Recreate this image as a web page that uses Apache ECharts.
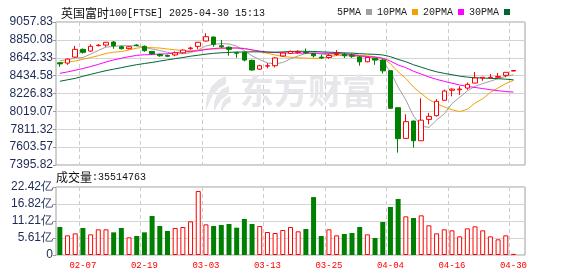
<!DOCTYPE html>
<html><head><meta charset="utf-8">
<script src="https://cdn.jsdelivr.net/npm/echarts@6/dist/echarts.min.js"></script>
<style>html,body{margin:0;padding:0;background:#fff}#c{width:578px;height:276px}</style>
</head><body><div id="c"></div>
<script>
const dates = ['02-04','02-05','02-06','02-07','02-10','02-11','02-12','02-13','02-14','02-17','02-18','02-19','02-20','02-21','02-24','02-25','02-26','02-27','02-28',
'03-03','03-04','03-05','03-06','03-07','03-10','03-11','03-12','03-13','03-14','03-17','03-18','03-19','03-20','03-21','03-24','03-25','03-26','03-27','03-28','03-31',
'04-01','04-02','04-03','04-04','04-07','04-08','04-09','04-10','04-11','04-14','04-15','04-16','04-17','04-22','04-23','04-24','04-25','04-28','04-29','04-30'];
const openV  = [8583,8580,8650,8740,8720,8783,8790,8825,8770,8748,8790,8775,8716,8680,8668,8675,8700,8748,8775,8837,8883,8782,8764,8702,8705,8612,8510,8545,8550,8663,8693,8705,8706,8690,8650,8645,8680,8680,8670,8650,8595,8635,8615,8492,8062,7705,7907,7678,7926,7969,8148,8264,8270,8290,8348,8405,8410,8415,8438,8488];
const closeV = [8571,8627,8740,8705,8775,8788,8822,8782,8748,8770,8785,8725,8690,8665,8660,8700,8731,8756,8822,8887,8798,8770,8740,8695,8615,8500,8550,8550,8640,8697,8716,8710,8701,8665,8640,8668,8690,8666,8660,8595,8645,8615,8490,8055,7702,7900,7678,7917,7961,8136,8256,8278,8279,8333,8407,8415,8414,8425,8473,8494];
const lowV   = [8538,8560,8645,8690,8712,8775,8770,8747,8737,8740,8775,8712,8680,8655,8650,8660,8690,8735,8745,8830,8770,8755,8666,8642,8600,8490,8500,8520,8530,8655,8685,8690,8685,8645,8630,8630,8665,8640,8640,8550,8590,8560,8460,8050,7540,7700,7597,7675,7869,7960,8145,8194,8210,8270,8345,8375,8400,8410,8415,8485];
const highV  = [8592,8635,8780,8750,8800,8800,8826,8837,8782,8775,8800,8785,8720,8690,8680,8715,8740,8770,8825,8926,8887,8848,8775,8710,8715,8620,8560,8580,8650,8705,8725,8730,8750,8700,8680,8685,8730,8700,8690,8660,8650,8640,8630,8495,8062,7985,7910,8171,8000,8160,8272,8287,8310,8355,8476,8415,8453,8465,8475,8497];
const ma5  = [8606,8620,8639,8645,8684,8727,8766,8774,8783,8782,8781,8762,8744,8727,8705,8688,8689,8702,8734,8779,8799,8807,8803,8778,8724,8664,8620,8582,8571,8587,8631,8663,8693,8698,8686,8677,8673,8666,8665,8656,8651,8636,8601,8480,8301,8152,7965,7850,7832,7918,7990,8110,8182,8256,8311,8342,8370,8399,8427,8444];
const ma10 = [8585,8592,8605,8625,8645,8666,8693,8707,8714,8733,8754,8764,8759,8755,8744,8735,8726,8723,8731,8742,8744,8748,8753,8756,8752,8732,8714,8693,8675,8656,8648,8642,8638,8635,8637,8654,8668,8680,8682,8671,8664,8655,8634,8573,8479,8402,8301,8226,8156,8110,8071,8038,8016,8044,8115,8166,8240,8291,8342,8378];
const ma20 = [8461,8478,8497,8517,8540,8565,8593,8617,8637,8655,8670,8677,8680,8686,8688,8701,8710,8715,8723,8738,8749,8756,8756,8756,8748,8734,8720,8708,8703,8699,8696,8695,8696,8696,8695,8693,8691,8687,8679,8664,8656,8649,8636,8604,8558,8528,8485,8453,8419,8391,8368,8347,8325,8309,8297,8284,8271,8259,8249,8244];
const ma30 = [8369,8386,8403,8427,8450,8471,8492,8510,8527,8545,8562,8575,8588,8603,8618,8632,8645,8660,8672,8684,8694,8700,8704,8709,8709,8711,8711,8708,8707,8710,8715,8718,8717,8715,8711,8707,8703,8699,8696,8690,8685,8682,8675,8655,8623,8596,8561,8533,8504,8479,8461,8445,8429,8417,8410,8407,8403,8399,8393,8386];
const volume = [9.23,6.48,7.14,8.9,6.81,8.46,8.46,7.47,8.9,5.84,6.26,7.47,12.86,9.56,7.91,8.9,9.23,11.1,21.1,10.1,9.56,9.89,10.22,9.0,11.87,10.22,9.56,7.58,7.25,8.24,9.23,7.8,8.57,19.1,6.26,8.46,6.48,6.92,7.25,9.23,6.81,5.6,10.88,15.83,18.46,12.75,12.2,13.08,9.78,7.14,8.46,8.13,6.15,8.79,9.45,8.13,6.15,5.17,6.48,0.36];
const priceTicks = ['7395.82','7603.57','7811.32','8019.07','8226.83','8434.58','8642.33','8850.08','9057.83'];
const volTicks = ['0','5.61亿','11.21亿','16.82亿','22.42亿'];
const PRICE_MIN = 7395.82, PRICE_MAX = 9057.83, PRICE_STEP = 207.75125;
const VOL_MAX = 22.42, VOL_STEP = 5.605;

const UP = '#ff0000', DOWN = '#008000';
const cats = dates.concat(['']);
const candle = openV.map((o, i) => [o, closeV[i], lowV[i], highV[i]]);
const volData = volume.map((v, i) => ({
  value: v,
  itemStyle: closeV[i] >= openV[i] ? {color: '#ffffff', borderColor: UP, borderWidth: 1} : {color: DOWN, borderColor: DOWN, borderWidth: 0}
}));
const markIdx = (i) => i >= 3 && (i - 3) % 8 === 0;
const gridLeft = 56, gridW = 469;
const lbl = {fontFamily: 'Liberation Sans', fontSize: 12, color: '#1d2a55'};
const maLine = (name, data, color) => ({
  name, type: 'line', data, xAxisIndex: 0, yAxisIndex: 0, showSymbol: false, symbol: 'none',
  lineStyle: {width: 1, color}, itemStyle: {color}, animation: false, z: 3
});
const wm = '#e7e7eb';
const MONO = 'Liberation Mono';

const chart = echarts.init(document.getElementById('c'), null, {renderer: 'canvas'});
chart.setOption({
  animation: false,
  backgroundColor: '#ffffff',
  title: {
    left: 56, top: 2,
    text: '{a|英国富时}{b|100[FTSE] 2025-04-30 15:13}',
    textStyle: {rich: {
      a: {fontFamily: 'Noto Sans CJK SC', fontSize: 12, fontWeight: 'normal', color: '#111'},
      b: {fontFamily: MONO, fontSize: 10, fontWeight: 'normal', color: '#111'}
    }}
  },
  legend: {
    left: 337, top: 7, padding: 0, align: 'right', icon: 'rect', itemWidth: 6, itemHeight: 6, itemGap: 5,
    data: ['5PMA', '10PMA', '20PMA', '30PMA'],
    textStyle: {fontFamily: MONO, fontSize: 10, color: '#222'}
  },
  graphic: [
    {type: 'text', left: 240, top: 74, z: 1, silent: true,
     style: {text: '东方财富', font: 'bold 34px "Noto Sans CJK SC"', fill: wm}},
    {type: 'polygon', z: 1, silent: true,
     shape: {points: [[226,76],[218,80],[211,87],[207,96],[206,104],[206,111],[209,103],[213,95],[219,88],[226,84]]},
     style: {fill: wm}},
    {type: 'polygon', z: 1, silent: true,
     shape: {points: [[229,86],[222,89],[217,95],[214,102],[214,112],[217,106],[221,100],[229,94]]},
     style: {fill: wm}},
    {type: 'polygon', z: 1, silent: true,
     shape: {points: [[230,96],[225,99],[222,103],[221,108],[221,113],[224,108],[227,104],[231,102]]},
     style: {fill: wm}},
    {type: 'text', left: 56, top: 171, z: 5,
     style: {rich: {
       a: {fontFamily: 'Noto Sans CJK SC', fontSize: 12, fill: '#111'},
       b: {fontFamily: MONO, fontSize: 10, fill: '#111'}
     }, text: '{a|成交量}{b|:35514763}'}}
  ],
  grid: [
    {left: gridLeft, top: 22, width: gridW, height: 143, show: true, borderColor: '#a0a0a0', borderWidth: 1},
    {left: gridLeft, top: 187, width: gridW, height: 68, show: true, borderColor: '#a0a0a0', borderWidth: 1}
  ],
  xAxis: [
    {type: 'category', gridIndex: 0, data: cats, boundaryGap: true,
     axisLine: {show: false}, axisTick: {show: false}, axisLabel: {show: false},
     splitLine: {show: true, interval: (i) => markIdx(i), lineStyle: {type: [4, 3], color: '#cccccc', width: 1}}},
    {type: 'category', gridIndex: 1, data: cats, boundaryGap: true,
     axisLine: {show: false}, axisTick: {show: false},
     axisLabel: {show: true, interval: (i) => markIdx(i), margin: 6, color: '#ff0000', fontFamily: MONO, fontSize: 9},
     splitLine: {show: true, interval: (i) => markIdx(i), lineStyle: {type: [4, 3], color: '#cccccc', width: 1}}}
  ],
  yAxis: [
    {type: 'value', gridIndex: 0, min: PRICE_MIN, max: PRICE_MAX, interval: PRICE_STEP,
     axisLine: {show: false}, axisTick: {show: true, length: 3, lineStyle: {color: '#999'}},
     axisLabel: Object.assign({margin: 3, formatter: (v) => { const k = Math.round((v - PRICE_MIN) / PRICE_STEP); return priceTicks[k] || ''; }}, lbl),
     splitLine: {show: true, lineStyle: {color: '#d4d4d4', width: 1}}},
    {type: 'value', gridIndex: 1, min: 0, max: VOL_MAX, interval: VOL_STEP,
     axisLine: {show: false}, axisTick: {show: true, length: 3, lineStyle: {color: '#999'}},
     axisLabel: Object.assign({margin: 3, formatter: (v) => { const k = Math.round(v / VOL_STEP); return volTicks[k] || ''; }}, lbl),
     splitLine: {show: true, lineStyle: {color: '#d4d4d4', width: 1}}}
  ],
  series: [
    maLine('5PMA', ma5, '#a0a0a0'),
    maLine('10PMA', ma10, '#f5a000'),
    maLine('20PMA', ma20, '#ff00ff'),
    maLine('30PMA', ma30, '#006633'),
    {name: 'K', type: 'candlestick', xAxisIndex: 0, yAxisIndex: 0, data: candle, barWidth: 5, z: 4,
     itemStyle: {color: '#ffffff', color0: DOWN, borderColor: UP, borderColor0: DOWN, borderWidth: 1}},
    {name: 'VOL', type: 'bar', xAxisIndex: 1, yAxisIndex: 1, data: volData, barWidth: 5, z: 4}
  ]
});
</script></body></html>
